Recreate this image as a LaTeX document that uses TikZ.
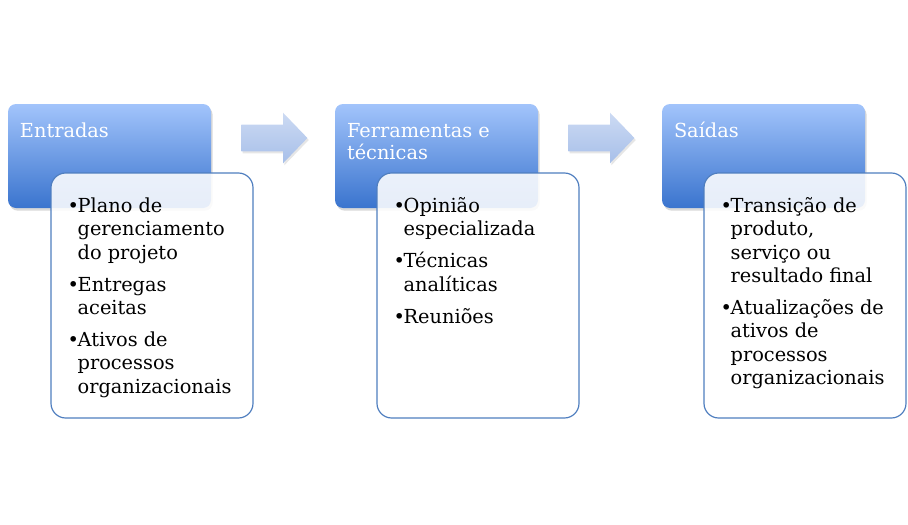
\documentclass[tikz,border=0pt]{standalone}
\usepackage{fontspec}
\setmainfont{DejaVu Serif}
\usetikzlibrary{positioning,calc,shapes.arrows,shadows}

\definecolor{stepTop}{HTML}{A2C4FB}
\definecolor{stepBottom}{HTML}{3A74CE}
\definecolor{listBorder}{HTML}{4F7EBF}
\definecolor{arrowTop}{HTML}{CCDAF3}
\definecolor{arrowBottom}{HTML}{A7BFE9}

% bullet list with fixed line breaks
\newcommand{\bullets}[1]{\begin{tabular}[t]{@{}l@{}l@{}}#1\end{tabular}}
\newcommand{\bul}{\makebox[7.5pt][l]{•}}
\newcommand{\lines}[1]{\begin{tabular}[t]{@{}l@{}}#1\end{tabular}}

\tikzset{
  stepbox/.style={rectangle, rounded corners=6pt, minimum width=152.25pt, minimum height=78pt,
    top color=stepTop, bottom color=stepBottom, draw=none,
    drop shadow={shadow xshift=1.2pt, shadow yshift=-2pt, opacity=0.3}},
  steptitle/.style={anchor=base west, text=white, inner sep=0pt,
    font=\fontsize{14.5pt}{16.5pt}\selectfont},
  listbox/.style={rectangle, rounded corners=11pt, minimum width=151.5pt, minimum height=183.75pt,
    draw=listBorder, line width=0.9pt, fill=white, fill opacity=0.88},
  listtext/.style={anchor=base west, inner sep=0pt,
    font=\fontsize{14.5pt}{17.5pt}\selectfont},
  flowarrow/.style={single arrow, minimum height=49.5pt, inner xsep=0pt, inner ysep=9.75pt,
    single arrow head extend=9pt, single arrow tip angle=92,
    top color=arrowTop, bottom color=arrowBottom, draw=none,
    drop shadow={shadow xshift=1pt, shadow yshift=-1.5pt, opacity=0.2}}
}

\begin{document}
\begin{tikzpicture}[x=0.75pt, y=-0.75pt]
    \useasboundingbox (0,0) rectangle (908,525);

    % Blue step boxes
    \node[stepbox] (step1) at (109.5,156) {};
    \node[stepbox] (step2) at (436.5,156) {};
    \node[stepbox] (step3) at (763.5,156) {};

    % Step titles
    \node[steptitle] (title1) at ($(step1.north west)+(12,34)$) {Entradas};
    \node[steptitle] (title2) at ($(step2.north west)+(12,34)$) {\lines{Ferramentas e\\técnicas}};
    \node[steptitle] (title3) at ($(step3.north west)+(12,34)$) {Saídas};

    % Arrows between steps
    \node[flowarrow] (arrow1) at (268,138) {};
    \node[flowarrow] (arrow2) at (595,138) {};

    % White list boxes
    \node[listbox] (list1) at (152,295.5) {};
    \node[listbox] (list2) at (478,295.5) {};
    \node[listbox] (list3) at (805,295.5) {};

    % List items
    \node[listtext] (items1) at ($(list1.north west)+(17,40)$) {\bullets{%
        \bul & Plano de\\ & gerenciamento\\ & do projeto\\[6.5pt]
        \bul & Entregas\\ & aceitas\\[6.5pt]
        \bul & Ativos de\\ & processos\\ & organizacionais}};
    \node[listtext] (items2) at ($(list2.north west)+(17,40)$) {\bullets{%
        \bul & Opinião\\ & especializada\\[6.5pt]
        \bul & Técnicas\\ & analíticas\\[6.5pt]
        \bul & Reuniões}};
    \node[listtext] (items3) at ($(list3.north west)+(17,40)$) {\bullets{%
        \bul & Transição de\\ & produto,\\ & serviço ou\\ & resultado final\\[6.5pt]
        \bul & Atualizações de\\ & ativos de\\ & processos\\ & organizacionais}};

\end{tikzpicture}
\end{document}
